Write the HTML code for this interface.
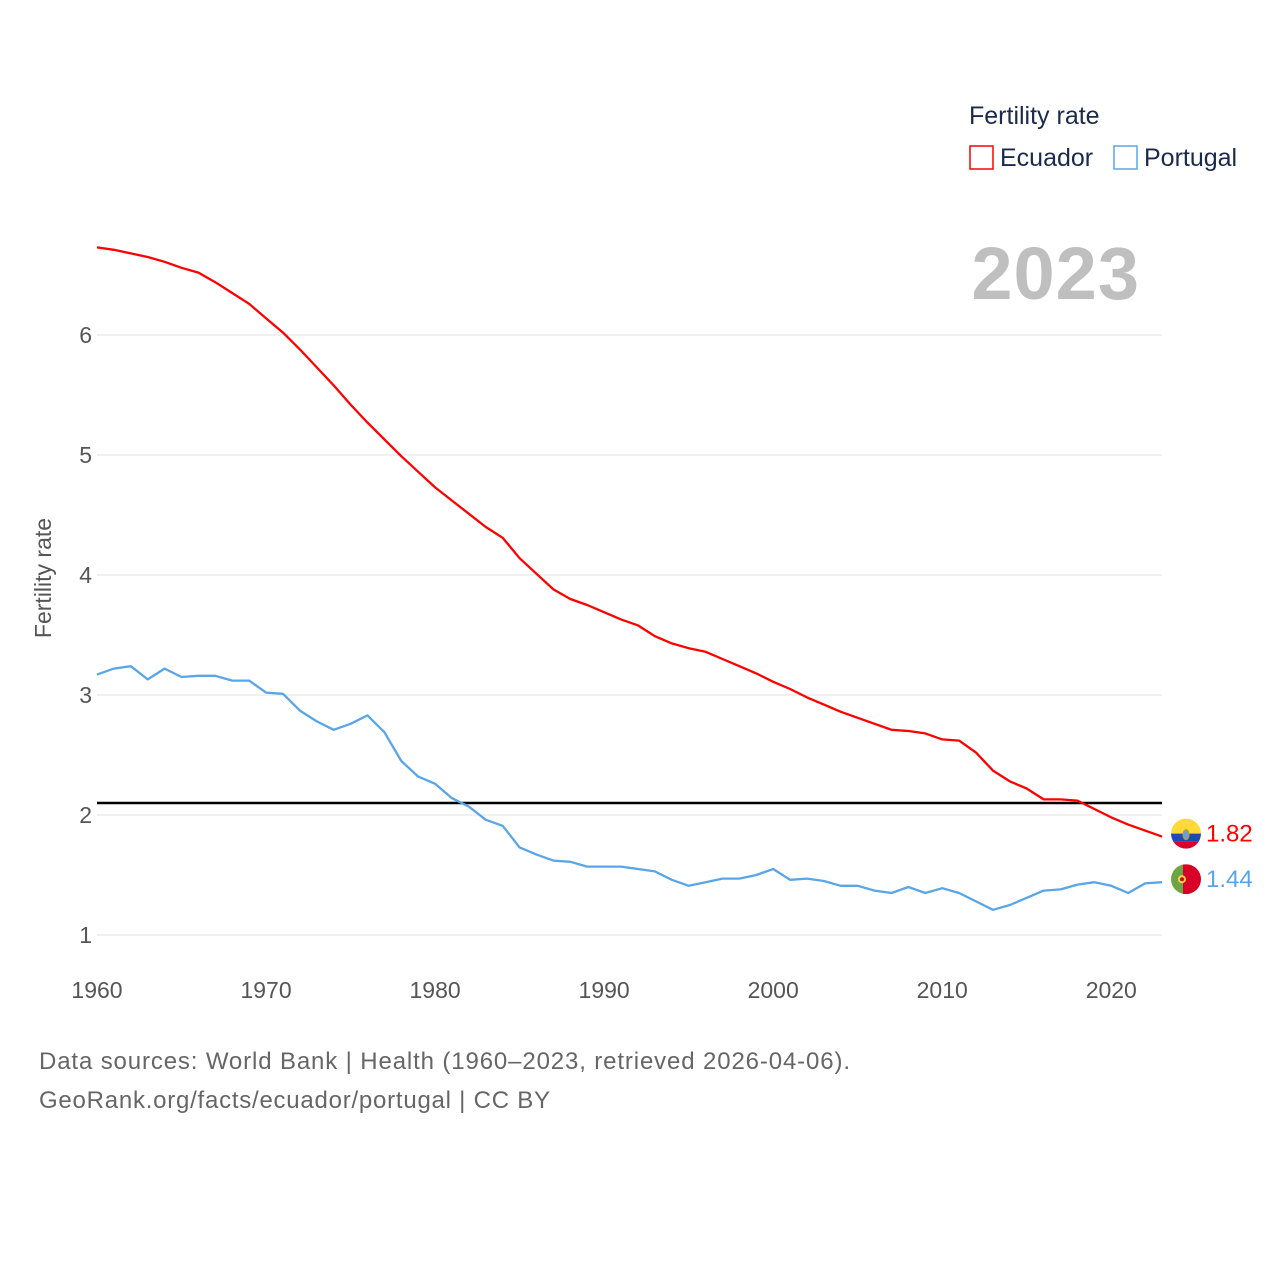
<!DOCTYPE html>
<html><head><meta charset="utf-8"><style>
body{margin:0;background:#fff;font-family:"Liberation Sans",sans-serif}
svg text{font-family:"Liberation Sans",sans-serif}
</style></head><body>
<svg id="chart" width="1280" height="1280" xmlns="http://www.w3.org/2000/svg">
<g id="grid"></g>
<g id="yt"></g>
<g id="xt"></g>
<text transform="translate(51,578) rotate(-90)" text-anchor="middle" font-size="23" fill="#555">Fertility rate</text>
<line id="ref" x1="97" x2="1162" stroke="#000" stroke-width="2.5"/>
<g id="lines"></g>
<text x="1140" y="299" text-anchor="end" font-size="74" font-weight="bold" fill="#bfbfbf" letter-spacing="1">2023</text>
<text x="969" y="124" font-size="25" fill="#1a2a4a">Fertility rate</text>
<g><rect x="970" y="146" width="23" height="23" fill="none" stroke="#ff0000" stroke-width="1.5"/><text x="1000" y="166" font-size="25" fill="#1a2a4a">Ecuador</text></g>
<g><rect x="1114" y="146" width="23" height="23" fill="none" stroke="#5aa5e8" stroke-width="1.5"/><text x="1144" y="166" font-size="25" fill="#1a2a4a">Portugal</text></g>
<g id="ends"></g>
<text x="39" y="1069" font-size="24" fill="#666" textLength="811">Data sources: World Bank | Health (1960–2023, retrieved 2026-04-06).</text>
<text x="39" y="1108" font-size="24" fill="#666" textLength="511">GeoRank.org/facts/ecuador/portugal | CC BY</text>
</svg>
<script>
const years=[];for(let y=1960;y<=2023;y++)years.push(y);
const ecuador=[6.73,6.71,6.68,6.65,6.61,6.56,6.52,6.44,6.35,6.26,6.14,6.02,5.88,5.73,5.58,5.42,5.27,5.13,4.99,4.86,4.73,4.62,4.51,4.40,4.31,4.14,4.01,3.88,3.80,3.75,3.69,3.63,3.58,3.49,3.43,3.39,3.36,3.30,3.24,3.18,3.11,3.05,2.98,2.92,2.86,2.81,2.76,2.71,2.70,2.68,2.63,2.62,2.52,2.37,2.28,2.22,2.13,2.13,2.12,2.05,1.98,1.92,1.87,1.82];
const portugal=[3.17,3.22,3.24,3.13,3.22,3.15,3.16,3.16,3.12,3.12,3.02,3.01,2.87,2.78,2.71,2.76,2.83,2.69,2.45,2.32,2.26,2.14,2.07,1.96,1.91,1.73,1.67,1.62,1.61,1.57,1.57,1.57,1.55,1.53,1.46,1.41,1.44,1.47,1.47,1.50,1.55,1.46,1.47,1.45,1.41,1.41,1.37,1.35,1.40,1.35,1.39,1.35,1.28,1.21,1.25,1.31,1.37,1.38,1.42,1.44,1.41,1.35,1.43,1.44];
const yTicks=[1,2,3,4,5,6];
const xTicks=[1960,1970,1980,1990,2000,2010,2020];
const refValue=2.1;
const X=y=>97+(y-1960)*(1162-97)/63;
const Y=v=>935-(v-1)*120;
const NS="http://www.w3.org/2000/svg";
function mk(t,a,p){const e=document.createElementNS(NS,t);for(const k in a)e.setAttribute(k,a[k]);p.appendChild(e);return e;}
const grid=document.getElementById('grid'),yt=document.getElementById('yt'),xt=document.getElementById('xt');
yTicks.forEach(v=>{
const l=mk('line',{x1:97,x2:1162,y1:Y(v),y2:Y(v),stroke:'#e6e6e6','stroke-width':1.2},grid);


const t=mk('text',{x:92,y:Y(v)+8,'text-anchor':'end','font-size':23,fill:'#555'},yt);t.textContent=v;


});
xTicks.forEach(v=>{
const t=mk('text',{x:X(v),y:998,'text-anchor':'middle','font-size':23,fill:'#555'},xt);t.textContent=v;


});
const ref=document.getElementById('ref');ref.setAttribute('y1',Y(refValue));ref.setAttribute('y2',Y(refValue));
const lines=document.getElementById('lines');
[[ecuador,'#ff0000','ecuador-line'],[portugal,'#5aa5e8','portugal-line']].forEach(([d,c,n])=>{
const p=mk('path',{d:d.map((v,i)=>(i?'L':'M')+X(years[i]).toFixed(1)+','+Y(v).toFixed(1)).join(''),fill:'none',stroke:c,'stroke-width':2.3,'stroke-linejoin':'round'},lines);


});
const ends=document.getElementById('ends');
const eV=ecuador[ecuador.length-1],pV=portugal[portugal.length-1];
let g=mk('g',{},ends);


const ey=Y(eV)-3;
mk('clipPath',{id:'ce'},g);mk('circle',{cx:1186,cy:ey,r:15},document.getElementById('ce'));
mk('rect',{x:1171,y:ey-15,width:30,height:15,fill:'#ffd83a','clip-path':'url(#ce)'},g);
mk('rect',{x:1171,y:ey,width:30,height:8,fill:'#1d4bb3','clip-path':'url(#ce)'},g);
mk('rect',{x:1171,y:ey+8,width:30,height:8,fill:'#d8002b','clip-path':'url(#ce)'},g);
mk('ellipse',{cx:1186,cy:ey+1,rx:3,ry:5,fill:'#6aa0d8',stroke:'#d0a000','stroke-width':1},g);
let t=mk('text',{x:1206,y:ey+8,'font-size':24,fill:'#ff0000'},ends);t.textContent=eV.toFixed(2);


const py=Y(pV)-3;
g=mk('g',{},ends);


mk('clipPath',{id:'cp'},g);mk('circle',{cx:1186,cy:py,r:15},document.getElementById('cp'));
mk('rect',{x:1171,y:py-15,width:12,height:30,fill:'#6da544','clip-path':'url(#cp)'},g);
mk('rect',{x:1183,y:py-15,width:18,height:30,fill:'#d80027','clip-path':'url(#cp)'},g);
mk('circle',{cx:1182,cy:py,r:4,fill:'#ffda44'},g);
mk('circle',{cx:1182,cy:py,r:2,fill:'#d80027'},g);
t=mk('text',{x:1206,y:py+8,'font-size':24,fill:'#5aa5e8'},ends);t.textContent=pV.toFixed(2);


</script>
</body></html>
